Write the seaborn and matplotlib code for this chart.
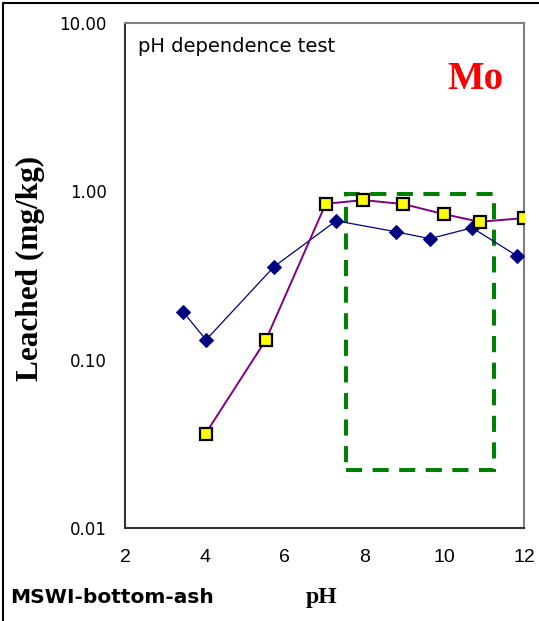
import matplotlib
matplotlib.use("Agg")
import matplotlib.pyplot as plt
import matplotlib.ticker as mticker
from matplotlib.lines import Line2D
from matplotlib.patches import Rectangle
import pandas as pd
import seaborn as sns

# Data
ph_a = [3.45, 4.03, 5.73, 7.29, 8.79, 9.64, 10.70, 11.82]
mo_a = [0.193, 0.131, 0.356, 0.668, 0.575, 0.523, 0.607, 0.414]
ph_b = [4.02, 5.53, 7.03, 7.97, 8.97, 9.99, 10.89, 11.99]
mo_b = [0.0364, 0.131, 0.843, 0.887, 0.840, 0.732, 0.659, 0.693]

# dashed box (pH range / leached range)
box_ph = (7.54, 11.26)
box_mo = (0.0222, 0.962)

y_ticks = [0.01, 0.1, 1, 10]
x_ticks = [2, 4, 6, 8, 10, 12]

sns.set_style("white")
plt.rcParams['font.family'] = ['DejaVu Sans']
plt.rcParams['text.color'] = 'black'
plt.rcParams['xtick.labelcolor'] = 'black'
plt.rcParams['ytick.labelcolor'] = 'black'

df_a = pd.DataFrame({'pH': ph_a, 'mo': mo_a})
df_b = pd.DataFrame({'pH': ph_b, 'mo': mo_b})

fig = plt.figure(figsize=(5.39, 6.21), dpi=100)
ax = fig.add_axes([0.232, 0.1498, 0.7402, 0.8132])

sns.lineplot(data=df_a, x='pH', y='mo', ax=ax, color='#000080', lw=0.9,
             marker='D', markersize=7.5, markeredgecolor='#000080',
             markerfacecolor='#000080', sort=False, zorder=3)
sns.lineplot(data=df_b, x='pH', y='mo', ax=ax, color='#800080', lw=1.4,
             marker='s', markersize=9, markeredgecolor='black',
             markeredgewidth=1.6, markerfacecolor='#ffff00', sort=False, zorder=4)

ax.add_patch(Rectangle((box_ph[0], box_mo[0]), box_ph[1] - box_ph[0], box_mo[1] - box_mo[0],
                       fill=False, edgecolor='#008000', lw=2.9,
                       linestyle=(0, (4, 2.6)), zorder=2))

ax.set_yscale('log')
ax.set_ylim(0.01, 10)
ax.set_xlim(2, 12)
ax.set_yticks(y_ticks)
ax.yaxis.set_major_formatter(mticker.FormatStrFormatter('%.2f'))
ax.yaxis.set_minor_locator(mticker.NullLocator())
ax.set_xticks(x_ticks)

ax.tick_params(axis='y', which='major', direction='out', length=5, width=1.2,
               color='#333333', pad=8, labelsize=12, labelcolor='black')
ax.tick_params(axis='x', which='major', direction='out', length=5, width=1.2,
               color='#555555', pad=10, labelcolor='black')
for lab in ax.get_xticklabels():
    lab.set_fontfamily('Liberation Sans')
    lab.set_fontsize(14)

for side in ['left', 'bottom']:
    ax.spines[side].set_color('#333333')
    ax.spines[side].set_linewidth(1.5)
for side in ['top', 'right']:
    ax.spines[side].set_color('#808080')
    ax.spines[side].set_linewidth(1.5)

ax.set_xlabel('')
ax.set_ylabel('')

ax.text(0.033, 0.943, 'pH dependence test', transform=ax.transAxes,
        fontsize=14, color='black', ha='left', va='baseline')
ax.text(0.807, 0.869, 'Mo', transform=ax.transAxes, fontsize=28,
        family='Liberation Serif', fontweight='bold', color='red',
        ha='left', va='baseline')

fig.text(0.056, 0.568, 'Leached (mg/kg)', rotation=90, fontsize=22.5,
         family='Liberation Serif', fontweight='bold', ha='center', va='center')
fig.text(0.597, 0.029, 'pH', fontsize=17, family='Liberation Serif',
         fontweight='bold', ha='center', va='baseline')
fig.text(0.0186, 0.029, 'MSWI-bottom-ash', fontsize=14.5, fontweight='bold',
         ha='left', va='baseline')

# frame around the figure (top and left edges visible)
fig.add_artist(Line2D([0.0056, 1.0], [0.9952, 0.9952], color='black', lw=1.5,
                      transform=fig.transFigure))
fig.add_artist(Line2D([0.0056, 0.0056], [0.0, 0.9952], color='black', lw=1.5,
                      transform=fig.transFigure))

fig.savefig('out.png', dpi=100)
